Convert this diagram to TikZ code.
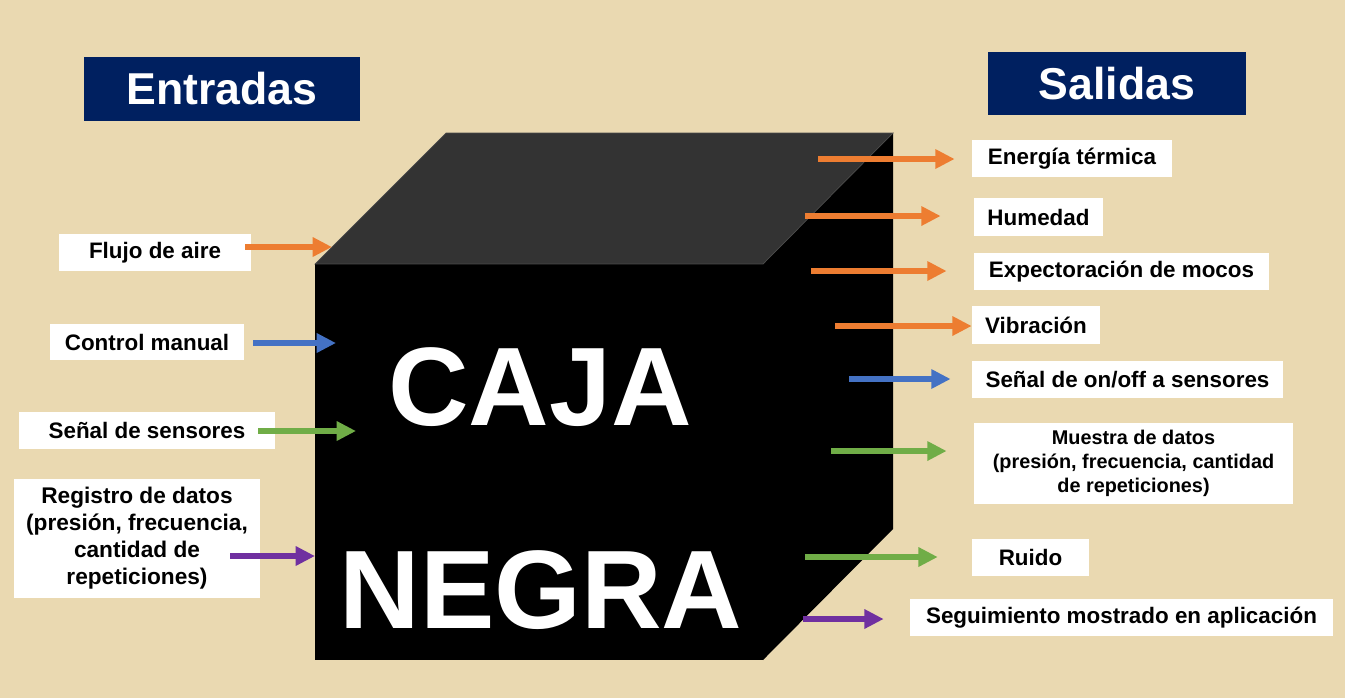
\documentclass[tikz,border=0pt]{standalone}
\usepackage{fontspec}
\setmainfont{Liberation Sans}
\usetikzlibrary{arrows.meta}

\definecolor{parchment}{RGB}{234,217,177}
\definecolor{navy}{RGB}{0,32,96}
\definecolor{arrorange}{RGB}{237,125,49}
\definecolor{arrblue}{RGB}{68,114,196}
\definecolor{arrgreen}{RGB}{112,173,71}
\definecolor{arrpurple}{RGB}{112,48,160}
\definecolor{topface}{RGB}{51,51,51}

\begin{document}
\begin{tikzpicture}[x=0.02cm, y=-0.02cm,
				lbl/.style={fill=white, align=center, inner sep=0pt, font=\bfseries\fontsize{12.75}{15.4}\selectfont},
				title/.style={fill=navy, text=white, inner sep=0pt, font=\bfseries\fontsize{25.4}{30}\selectfont},
				big/.style={text=white, inner sep=0pt, font=\bfseries\fontsize{63.5}{70}\selectfont},
				arr/.style={line width=3.4pt, -{Triangle[length=11pt,width=10.5pt]}}]
				\fill[parchment] (0,0) rectangle (1345,698);
				\useasboundingbox (0,0) rectangle (1345,698);
				% the box
				\fill[topface] (315,264) -- (446,133) -- (893,133) -- (763,264) -- cycle;
				\fill[black] (763,264) -- (893,133) -- (893,529) -- (763,660) -- cycle;
				\fill[black] (315,264) rectangle (763,660);
				\draw[gray!60!black, line width=0.4pt] (315,264) -- (446,133) -- (893,133) -- (763,264) -- cycle;
				\node[big, anchor=base] (caja)  at (540,425) {CAJA};
				\node[big, anchor=base] (negra) at (541,628) {NEGRA};
				% titles
				\node[title, minimum width=5.52cm, minimum height=1.28cm] (entradas) at (222,89)    {Entradas};
				\node[title, minimum width=5.16cm, minimum height=1.26cm] (salidas)  at (1117,83.5) {Salidas};
				% inputs
				\node[lbl, minimum width=3.84cm, minimum height=0.74cm] (flujo)    at (155,252.5) {Flujo de aire};
				\node[lbl, minimum width=3.88cm, minimum height=0.72cm] (control)  at (147,342)   {Control manual};
				\node[lbl, minimum width=5.12cm, minimum height=0.74cm] (senal)    at (147,430.5) {Señal de sensores};
				\node[lbl, minimum width=4.92cm, minimum height=2.38cm,
				      font=\bfseries\fontsize{12.9}{15.4}\selectfont] (registro) at (137,538.5) {Registro de datos\\(presión, frecuencia,\\cantidad de\\repeticiones)};
				% outputs
				\node[lbl, minimum width=4.00cm, minimum height=0.74cm] (energia)  at (1072,158.5)  {Energía térmica};
				\node[lbl, minimum width=2.58cm, minimum height=0.76cm] (humedad)  at (1038.5,217)  {Humedad};
				\node[lbl, minimum width=5.90cm, minimum height=0.74cm] (mocos)    at (1121.5,271.5) {Expectoración de mocos};
				\node[lbl, minimum width=2.56cm, minimum height=0.76cm] (vibra)    at (1036,325)    {Vibración};
				\node[lbl, minimum width=6.22cm, minimum height=0.74cm] (onoff)    at (1127.5,379.5) {Señal de on/off a sensores};
				\node[lbl, minimum width=6.38cm, minimum height=1.62cm,
				      font=\bfseries\fontsize{11.3}{13.7}\selectfont] (muestra) at (1133.5,463.5) {Muestra de datos\\(presión, frecuencia, cantidad\\de repeticiones)};
				\node[lbl, minimum width=2.34cm, minimum height=0.74cm] (ruido)    at (1030.5,557.5) {Ruido};
				\node[lbl, minimum width=8.46cm, minimum height=0.74cm] (seguim)   at (1121.5,617.5) {Seguimiento mostrado en aplicación};
				% arrow ends on the box
				\coordinate (in1) at (332,247);
				\coordinate (in2) at (336,343);
				\coordinate (in3) at (356,431);
				\coordinate (in4) at (315,556);
				\coordinate (out1) at (818,159);
				\coordinate (out2) at (805,216);
				\coordinate (out3) at (811,271);
				\coordinate (out4) at (835,326);
				\coordinate (out5) at (849,379);
				\coordinate (out6) at (831,451);
				\coordinate (out7) at (805,557);
				\coordinate (out8) at (803,619);
				\draw[arr, arrorange, shorten <=-3.4pt] (flujo.east |- in1) -- (in1);
				\draw[arr, arrblue, shorten <=5.1pt] (control.east |- in2) -- (in2);
				\draw[arr, arrgreen, shorten <=-9.7pt] (senal.east |- in3) -- (in3);
				\draw[arr, arrpurple, shorten <=-17.1pt] (registro.east |- in4) -- (in4);
				\draw[arr, arrorange, shorten >=9.7pt] (out1) -- (out1 -| energia.west);
				\draw[arr, arrorange, shorten >=18.8pt] (out2) -- (out2 -| humedad.west);
				\draw[arr, arrorange, shorten >=15.4pt] (out3) -- (out3 -| mocos.west);
				\draw[arr, arrorange] (out4) -- (out4 -| vibra.west);
				\draw[arr, arrblue, shorten >=12pt] (out5) -- (out5 -| onoff.west);
				\draw[arr, arrgreen, shorten >=15.4pt] (out6) -- (out6 -| muestra.west);
				\draw[arr, arrgreen, shorten >=19.3pt] (out7) -- (out7 -| ruido.west);
				\draw[arr, arrpurple, shorten >=14.8pt] (out8) -- (out8 -| seguim.west);
			\end{tikzpicture}
\end{document}
